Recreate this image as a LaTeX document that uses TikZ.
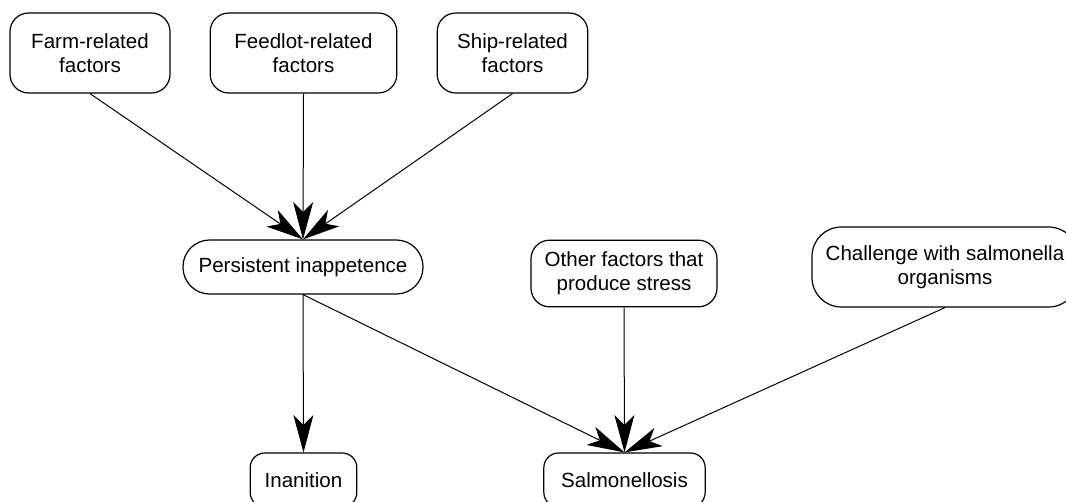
\documentclass[tikz,border=0pt]{standalone}
\usepackage{fontspec}
\setmainfont{Liberation Sans}
\usetikzlibrary{arrows.meta}
\begin{document}
\begin{tikzpicture}[x=0.75pt,y=-0.75pt,
  box/.style={draw,line width=0.9pt,rounded corners=14pt,align=center,inner sep=0pt,
    font=\fontsize{15.4}{18}\selectfont},
  link/.style={line width=0.75pt,-{Stealth[length=28pt,width=15pt,inset=7.5pt]}}]
\useasboundingbox (0,0) rectangle (1066,502);
% causes
\node[box,minimum width=120pt,minimum height=60pt] (farm) at (90,53) {Farm-related\\factors};
\node[box,minimum width=140pt,minimum height=60pt] (feedlot) at (303.5,53) {Feedlot-related\\factors};
\node[box,minimum width=113pt,minimum height=60pt] (ship) at (512.5,53) {Ship-related\\factors};
\node[box,rounded corners=20pt,minimum width=180pt,minimum height=40.5pt] (inapp) at (303,267) {Persistent inappetence};
\node[box,minimum width=139.5pt,minimum height=50pt] (other) at (624,273.5) {Other factors that\\produce stress};
\node[box,rounded corners=22pt,minimum width=199.5pt,minimum height=60pt] (challenge) at (945,267) {Challenge with salmonella\\organisms};
% outcomes
\node[box,rounded corners=11pt,minimum width=80pt,minimum height=40.5pt] (inanition) at (303.5,480) {Inanition};
\node[box,rounded corners=11pt,minimum width=121pt,minimum height=40.5pt] (salmo) at (624.5,480) {Salmonellosis};
\draw[link] (farm.south) -- (inapp.north);
\draw[link] (feedlot.south) -- (inapp.north);
\draw[link] (ship.south) -- (inapp.north);
\draw[link] (inapp.south) -- (inanition.north);
\draw[link] (inapp.south) -- (salmo.north);
\draw[link] (other.south) -- (salmo.north);
\draw[link] (challenge.south) -- (salmo.north);
\end{tikzpicture}
\end{document}
